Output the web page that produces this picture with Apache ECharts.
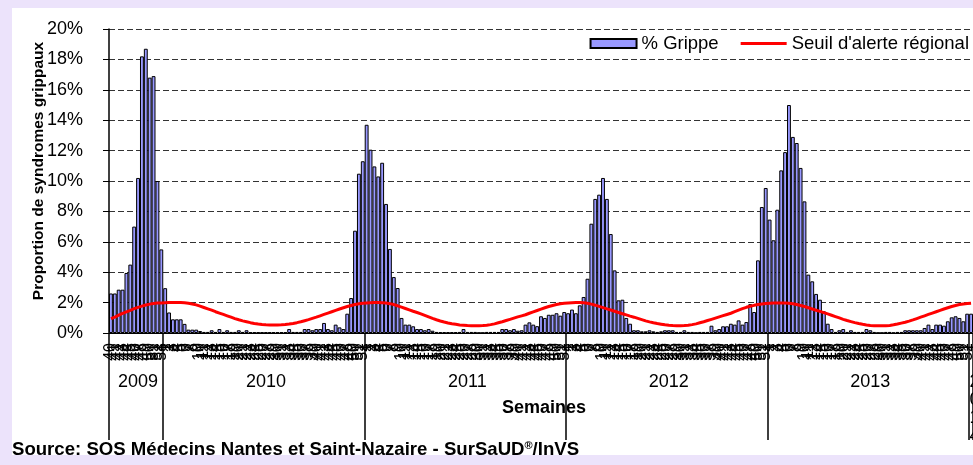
<!DOCTYPE html>
<html>
<head>
<meta charset="utf-8">
<script src="https://cdn.jsdelivr.net/npm/echarts@6/dist/echarts.min.js"></script>
<style>
  html, body { margin: 0; padding: 0; }
  #chart { width: 973px; height: 465px; }
</style>
</head>
<body>
<div id="chart"></div>
<script>
// années affichées sur l'axe, semaine de départ et nombre de semaines
const years = ['2009', '2010', '2011', '2012', '2013', '2014'];
const firstWeeks = [40, 1, 1, 1, 1, 1];
const weekCounts = [14, 52, 52, 52, 52, 1];

// % de syndromes grippaux par semaine
const grippe2009 = [2.6, 2.6, 2.85, 2.85, 3.95, 4.5, 7.0, 10.2, 18.2, 18.7, 16.8, 16.9, 10.0, 5.5];
const grippe2010 = [2.95, 1.35, 0.9, 0.9, 0.9, 0.6, 0.22, 0.22, 0.22, 0.13, 0.07, 0.07, 0.18, 0.07, 0.26, 0.07,
  0.18, 0.07, 0.07, 0.18, 0.07, 0.18, 0.05, 0.05, 0.05, 0.05, 0.05, 0.05, 0.05, 0.05, 0.05, 0.05, 0.26, 0.07,
  0.07, 0.07, 0.26, 0.26, 0.18, 0.26, 0.26, 0.66, 0.26, 0.18, 0.55, 0.37, 0.26, 1.27, 2.3, 6.73, 10.48, 11.3];
const grippe2011 = [13.7, 12.06, 10.96, 10.3, 11.2, 8.49, 5.53, 3.68, 2.96, 0.99, 0.55, 0.55, 0.44, 0.26, 0.26,
  0.18, 0.26, 0.15, 0.07, 0.06, 0.06, 0.06, 0.06, 0.06, 0.07, 0.26, 0.07, 0.07, 0.07, 0.02, 0.02, 0.07, 0.07,
  0.07, 0.07, 0.26, 0.26, 0.18, 0.26, 0.15, 0.18, 0.55, 0.7, 0.55, 0.45, 1.1, 0.99, 1.2, 1.2, 1.3, 1.14, 1.38];
const grippe2012 = [1.3, 1.54, 1.3, 1.82, 2.37, 3.57, 7.19, 8.82, 9.1, 10.2, 8.82, 6.51, 4.12, 2.15, 2.19, 0.99,
  0.61, 0.18, 0.18, 0.11, 0.11, 0.18, 0.11, 0.07, 0.11, 0.18, 0.18, 0.18, 0.07, 0.07, 0.18, 0.07, 0.07, 0.02,
  0.07, 0.07, 0.07, 0.48, 0.18, 0.26, 0.44, 0.44, 0.61, 0.55, 0.83, 0.55, 0.72, 1.9, 1.38, 4.78, 8.29, 9.54];
const grippe2013 = [7.46, 6.1, 8.11, 10.7, 11.9, 15.0, 12.9, 12.5, 10.86, 8.66, 3.84, 3.4, 2.57, 2.19, 1.43, 0.61,
  0.26, 0.07, 0.18, 0.26, 0.07, 0.18, 0.07, 0.07, 0.07, 0.26, 0.18, 0.07, 0.02, 0.02, 0.07, 0.07, 0.02, 0.07,
  0.07, 0.18, 0.18, 0.18, 0.18, 0.18, 0.33, 0.55, 0.26, 0.55, 0.55, 0.48, 0.77, 1.03, 1.1, 0.99, 0.77, 1.27];
const grippe2014 = [1.27];

// seuil d'alerte régional
const seuil2009 = [0.95, 1.05, 1.17, 1.29, 1.39, 1.49, 1.6, 1.69, 1.77, 1.84, 1.9, 1.94, 1.97, 1.98];
const seuil2010 = [1.99, 2.0, 2.0, 2.0, 2.0, 1.99, 1.96, 1.91, 1.85, 1.77, 1.68, 1.59, 1.5, 1.4, 1.31, 1.22,
  1.13, 1.04, 0.95, 0.87, 0.8, 0.74, 0.68, 0.63, 0.59, 0.56, 0.54, 0.53, 0.53, 0.53, 0.54, 0.56, 0.59, 0.63,
  0.68, 0.74, 0.81, 0.88, 0.96, 1.04, 1.13, 1.22, 1.31, 1.4, 1.49, 1.58, 1.66, 1.74, 1.81, 1.87, 1.92, 1.95];
const seuil2011 = [1.97, 1.99, 2.0, 2.0, 1.99, 1.97, 1.93, 1.87, 1.79, 1.7, 1.61, 1.52, 1.43, 1.35, 1.26, 1.16,
  1.06, 0.96, 0.87, 0.79, 0.72, 0.66, 0.61, 0.57, 0.53, 0.51, 0.49, 0.48, 0.48, 0.48, 0.49, 0.51, 0.55, 0.6,
  0.67, 0.74, 0.82, 0.9, 0.98, 1.06, 1.13, 1.2, 1.3, 1.39, 1.48, 1.57, 1.66, 1.74, 1.81, 1.87, 1.92, 1.95];
const seuil2012 = [1.97, 1.99, 2.0, 2.0, 1.99, 1.96, 1.9, 1.83, 1.75, 1.67, 1.59, 1.51, 1.43, 1.35, 1.27, 1.19,
  1.11, 1.04, 0.96, 0.88, 0.8, 0.73, 0.67, 0.62, 0.58, 0.54, 0.51, 0.49, 0.48, 0.48, 0.49, 0.51, 0.55, 0.6,
  0.67, 0.74, 0.82, 0.9, 0.98, 1.06, 1.14, 1.22, 1.3, 1.4, 1.5, 1.6, 1.69, 1.76, 1.82, 1.87, 1.91, 1.94];
const seuil2013 = [1.96, 1.97, 1.98, 1.98, 1.97, 1.95, 1.92, 1.87, 1.81, 1.74, 1.66, 1.58, 1.5, 1.42, 1.34, 1.26,
  1.17, 1.08, 0.99, 0.9, 0.82, 0.75, 0.68, 0.62, 0.57, 0.53, 0.5, 0.48, 0.47, 0.47, 0.48, 0.5, 0.54, 0.59,
  0.65, 0.71, 0.78, 0.86, 0.95, 1.04, 1.13, 1.22, 1.31, 1.4, 1.49, 1.58, 1.66, 1.74, 1.81, 1.87, 1.91, 1.94];
const seuil2014 = [1.96];

const grippe = [].concat(grippe2009, grippe2010, grippe2011, grippe2012, grippe2013, grippe2014);
const seuil = [].concat(seuil2009, seuil2010, seuil2011, seuil2012, seuil2013, seuil2014);

// libellés des semaines + libellés d'année (au milieu de chaque année)
const weekLabels = [];
const yearLabels = [];
const yearStarts = [];
years.forEach((y, k) => {
  yearStarts.push(weekLabels.length);
  for (let w = 0; w < weekCounts[k]; w++) {
    weekLabels.push(String(firstWeeks[k] + w));
    yearLabels.push(w === Math.floor(weekCounts[k] / 2) ? y : '');
  }
});
const lastIndex = weekLabels.length - 1;

const FONT = '"Liberation Sans", Arial, sans-serif';

const chart = echarts.init(document.getElementById('chart'));

chart.setOption({
  backgroundColor: '#ECE3FB',
  animation: false,
  textStyle: { fontFamily: FONT, color: '#000' },
  graphic: [
    {
      type: 'rect', left: 12, top: 8, z: -100,
      shape: { width: 961, height: 447 },
      style: { fill: '#fff' }
    },
    {
      type: 'text', left: 12, top: 440,
      style: {
        text: 'Source: SOS Médecins Nantes et Saint-Nazaire - SurSaUD{sup|®}/InVS',
        font: 'bold 18.6px ' + FONT,
        fill: '#000',
        rich: { sup: { fontSize: 11, fontWeight: 'bold', fontFamily: FONT, verticalAlign: 'top', padding: [0, 0, 7, 0] } }
      }
    }
  ],
  legend: {
    right: 4, top: 34, padding: 0,
    itemWidth: 46, itemHeight: 9, itemGap: 22,
    textStyle: { fontSize: 18.5, color: '#000' },
    data: [
      { name: '% Grippe', icon: 'rect' },
      { name: "Seuil d'alerte régional", icon: 'path://M0,0h46v3h-46z' }
    ]
  },
  grid: { left: 109, right: 0, top: 29, bottom: 132, outerBoundsMode: 'none', containLabel: false },
  xAxis: [
    {
      type: 'category',
      data: weekLabels,
      name: 'Semaines',
      nameLocation: 'middle',
      nameGap: 66,
      nameMoveOverlap: false,
      nameTextStyle: { fontWeight: 'bold', fontSize: 18, color: '#000', padding: [0, 0, 0, 6] },
      axisLine: { lineStyle: { color: '#000', width: 1 } },
      axisTick: { interval: 0, length: 9, lineStyle: { color: '#000' } },
      axisLabel: { interval: 0, rotate: 90, fontSize: 16, margin: 10, color: '#000' }
    },
    {
      type: 'category',
      data: yearLabels,
      position: 'bottom',
      axisLine: { show: true, lineStyle: { color: 'rgba(0,0,0,0)' } },
      axisTick: {
        show: true,
        length: 107,
        interval: (i) => yearStarts.indexOf(i) >= 0,
        lineStyle: { color: '#000', width: 1.5 }
      },
      axisLabel: {
        interval: (i, v) => v !== '',
        margin: 40,
        fontSize: 18,
        color: '#000',
        lineHeight: 18,
        formatter: (v, i) => (i === lastIndex ? v.split('').map((c) => '{e|' + c + '}').join('\n') : v),
        rich: { e: { fontSize: 18, lineHeight: 18, padding: [0, 0, 0, 7] } }
      }
    }
  ],
  yAxis: {
    type: 'value',
    min: 0, max: 20, interval: 2,
    name: 'Proportion de syndromes grippaux',
    nameLocation: 'middle',
    nameGap: 62,
    nameMoveOverlap: false,
    nameTextStyle: { fontWeight: 'bold', fontSize: 15.5, color: '#000', padding: [0, 0, 0, 20] },
    axisLine: { show: true, lineStyle: { color: '#000', width: 1.5 } },
    axisTick: { show: true, length: 6, lineStyle: { color: '#000' } },
    axisLabel: { formatter: '{value}%', fontSize: 18, margin: 26, color: '#000' },
    splitLine: { lineStyle: { color: '#333', type: [6, 3], width: 1 } }
  },
  series: [
    {
      name: '% Grippe',
      type: 'bar',
      data: grippe,
      barCategoryGap: '0%',
      itemStyle: { color: '#9999FF', borderColor: '#000', borderWidth: 1 }
    },
    {
      name: "Seuil d'alerte régional",
      type: 'line',
      data: seuil,
      symbol: 'none',
      lineStyle: { color: '#FF0000', width: 3 },
      itemStyle: { color: '#FF0000' },
      z: 5
    }
  ]
});
</script>
</body>
</html>
